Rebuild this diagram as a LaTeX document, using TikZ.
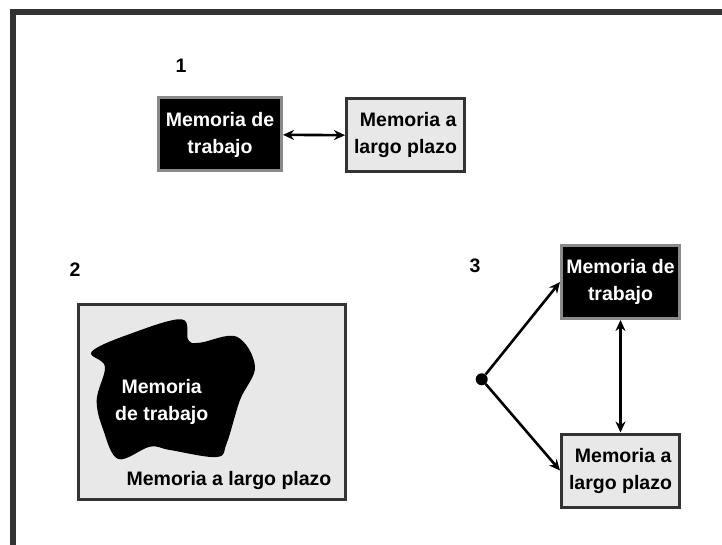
\documentclass[tikz,border=0pt]{standalone}
\usepackage{fontspec}
\setmainfont{Liberation Sans}
\usetikzlibrary{arrows.meta}

\definecolor{framegray}{HTML}{333333}
\definecolor{edgegray}{HTML}{8A8A8A}
\definecolor{ltmfill}{HTML}{E8E8E8}

\begin{document}
\begin{tikzpicture}[x=1pt,y=-1pt,
  every node/.style={font=\fontsize{19.5}{27}\selectfont\bfseries, inner sep=0pt, align=center},
  wmbox/.style={draw=edgegray, fill=black, text=white, line width=3pt,
    minimum width=123pt, minimum height=73pt},
  ltmbox/.style={draw=framegray, fill=ltmfill, line width=3pt,
    minimum width=118pt, minimum height=73pt},
  link/.style={{Stealth[length=11pt,width=10pt]}-{Stealth[length=11pt,width=10pt]}, line width=2.6pt},
  oneway/.style={-{Stealth[length=11pt,width=10pt]}, line width=2.6pt}]
\useasboundingbox (0,0) rectangle (722,545);
% frame, only top and left edges show
\draw[framegray, line width=6pt] (13,560) -- (13,12) -- (740,12);

% 1
\node (n1) at (181,66) {1};
\node[wmbox] (wm1) at (220,134.5) {Memoria de\\trabajo};
\node[ltmbox] (ltm1) at (405.5,135.5) {\ Memoria a\\largo plazo};
\draw[link] (wm1) -- (ltm1);

% 2
\node (n2) at (75,270) {2};
\node[ltmbox, minimum width=267pt, minimum height=195pt] (ltm2) at (212,402) {};
\fill[black] plot[smooth cycle, tension=0.6] coordinates {
  (91.7,351.7) (131.7,333.3) (181.7,319.3) (188.3,340) (200,342.7)
  (236.7,336.7) (255,366.7) (240,400) (226.7,443.3) (216.7,457)
  (170,450) (150,446.7) (118.3,459) (103.3,430) (96.7,400) (105,366.7)};
\node[text=white] (wm2) at (161.7,402) {Memoria\\de trabajo};
\node (ltm2txt) at (229,480) {Memoria a largo plazo};

% 3
\node (n3) at (475,266) {3};
\node[wmbox, minimum width=118pt] (wm3) at (620.5,282) {Memoria de\\trabajo};
\node[ltmbox] (ltm3) at (620.5,470.5) {\ Memoria a\\largo plazo};
\node[circle, fill=black, minimum size=12pt] (src) at (481.7,379.3) {};
\draw[oneway] (src) -- (wm3.west);
\draw[oneway] (src) -- (ltm3.west);
\draw[link] (wm3) -- (ltm3);
\end{tikzpicture}
\end{document}
